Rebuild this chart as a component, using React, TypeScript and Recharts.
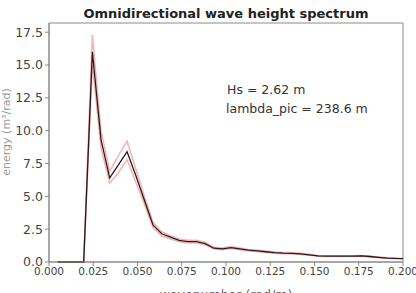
import { LineChart, Line, XAxis, YAxis, ReferenceArea } from "recharts";

// wavenumber (rad/m)
const waveNumbers = [
  0.0049, 0.0098, 0.0147, 0.0196, 0.0245, 0.0294, 0.0343, 0.0392, 0.0441, 0.049, 0.0539, 0.0588, 0.0637, 0.0686,
  0.0735, 0.0784, 0.0833, 0.0882, 0.0931, 0.098, 0.1029, 0.1078, 0.1127, 0.1176, 0.1225, 0.1274, 0.1323, 0.1372,
  0.1421, 0.147, 0.1519, 0.1568, 0.1617, 0.1666, 0.1715, 0.1764, 0.1813, 0.1862, 0.1911, 0.196, 0.2,
];
const meanSpec = [
  0, 0, 0, 0, 16.0, 9.3, 6.4, 7.4, 8.4, 6.6, 4.7, 2.8, 2.15, 1.9, 1.65, 1.55, 1.55, 1.4, 1.05, 1.0, 1.1, 1.0, 0.9,
  0.85, 0.78, 0.72, 0.68, 0.66, 0.62, 0.55, 0.47, 0.45, 0.45, 0.44, 0.45, 0.47, 0.42, 0.36, 0.3, 0.27, 0.26,
];
const upperSpec = [
  0, 0, 0, 0, 17.3, 10.0, 6.9, 8.1, 9.2, 7.1, 5.0, 3.0, 2.3, 2.0, 1.75, 1.65, 1.65, 1.5, 1.12, 1.07, 1.18, 1.07, 0.96,
  0.91, 0.83, 0.77, 0.73, 0.7, 0.66, 0.59, 0.5, 0.48, 0.48, 0.47, 0.48, 0.5, 0.45, 0.39, 0.32, 0.29, 0.28,
];
const lowerSpec = [
  0, 0, 0, 0, 15.0, 8.7, 6.0, 6.8, 7.8, 6.1, 4.4, 2.6, 2.0, 1.75, 1.55, 1.45, 1.45, 1.3, 0.98, 0.93, 1.02, 0.93, 0.84,
  0.79, 0.73, 0.67, 0.63, 0.62, 0.58, 0.51, 0.44, 0.42, 0.42, 0.41, 0.42, 0.44, 0.39, 0.33, 0.28, 0.25, 0.24,
];
const xTicks = [0, 0.025, 0.05, 0.075, 0.1, 0.125, 0.15, 0.175, 0.2];
const yTicks = [0, 2.5, 5, 7.5, 10, 12.5, 15, 17.5];
const hs = 2.62;
const lambdaPic = 238.6;

const data = waveNumbers.map((k, i) => ({ k, mean: meanSpec[i], hi: upperSpec[i], lo: lowerSpec[i] }));

const font = "'DejaVu Sans', sans-serif";
const spine = "#8a8a8a";

export default function App() {
  return (
    <div style={{ position: "fixed", left: 0, top: 0, width: 416, height: 293, background: "#fff", fontFamily: font }}>
      <LineChart width={416} height={293} data={data} margin={{ top: 23, right: 13, bottom: 0, left: 0 }}>
        <text x={226} y={18} textAnchor="middle" fontSize={13} fontWeight="bold" fill="#222" fontFamily={font}>
          Omnidirectional wave height spectrum
        </text>
        <text
          x={10}
          y={132}
          transform="rotate(-90 10 132)"
          textAnchor="middle"
          fontSize={11}
          fill="#999"
          fontFamily={font}
        >
          energy (m³/rad)
        </text>
        <XAxis
          dataKey="k"
          type="number"
          domain={[0, 0.2]}
          ticks={xTicks}
          tickFormatter={(v: number) => v.toFixed(3)}
          height={31}
          stroke={spine}
          tickSize={4}
          tick={{ fontSize: 10.5, fill: "#444", fontFamily: font }}
          label={{ value: "wavenumber (rad/m)", position: "insideBottom", offset: -6, fontSize: 12.5, fill: "#666", fontFamily: font }}
        />
        <YAxis
          type="number"
          domain={[0, 18.2]}
          ticks={yTicks}
          tickFormatter={(v: number) => v.toFixed(1)}
          width={49}
          stroke={spine}
          tickSize={4}
          tick={{ fontSize: 12.5, fill: "#444", fontFamily: font }}
        />
        <ReferenceArea x1={0} x2={0.2} y1={0} y2={18.2} fill="none" stroke={spine} strokeWidth={1} ifOverflow="visible" />
        <Line dataKey="hi" stroke="#e86a6a" strokeOpacity={0.5} strokeWidth={1.5} dot={false} isAnimationActive={false} />
        <Line dataKey="lo" stroke="#e86a6a" strokeOpacity={0.5} strokeWidth={1.5} dot={false} isAnimationActive={false} />
        <Line dataKey="mean" stroke="#2a1a1a" strokeWidth={1.3} dot={false} isAnimationActive={false} />
        <text x={227} y={94} fontSize={12.5} fill="#333" fontFamily={font}>
          Hs = {hs.toFixed(2)} m
        </text>
        <text x={226} y={113} fontSize={12.5} fill="#333" fontFamily={font}>
          lambda_pic = {lambdaPic.toFixed(1)} m
        </text>
      </LineChart>
    </div>
  );
}
